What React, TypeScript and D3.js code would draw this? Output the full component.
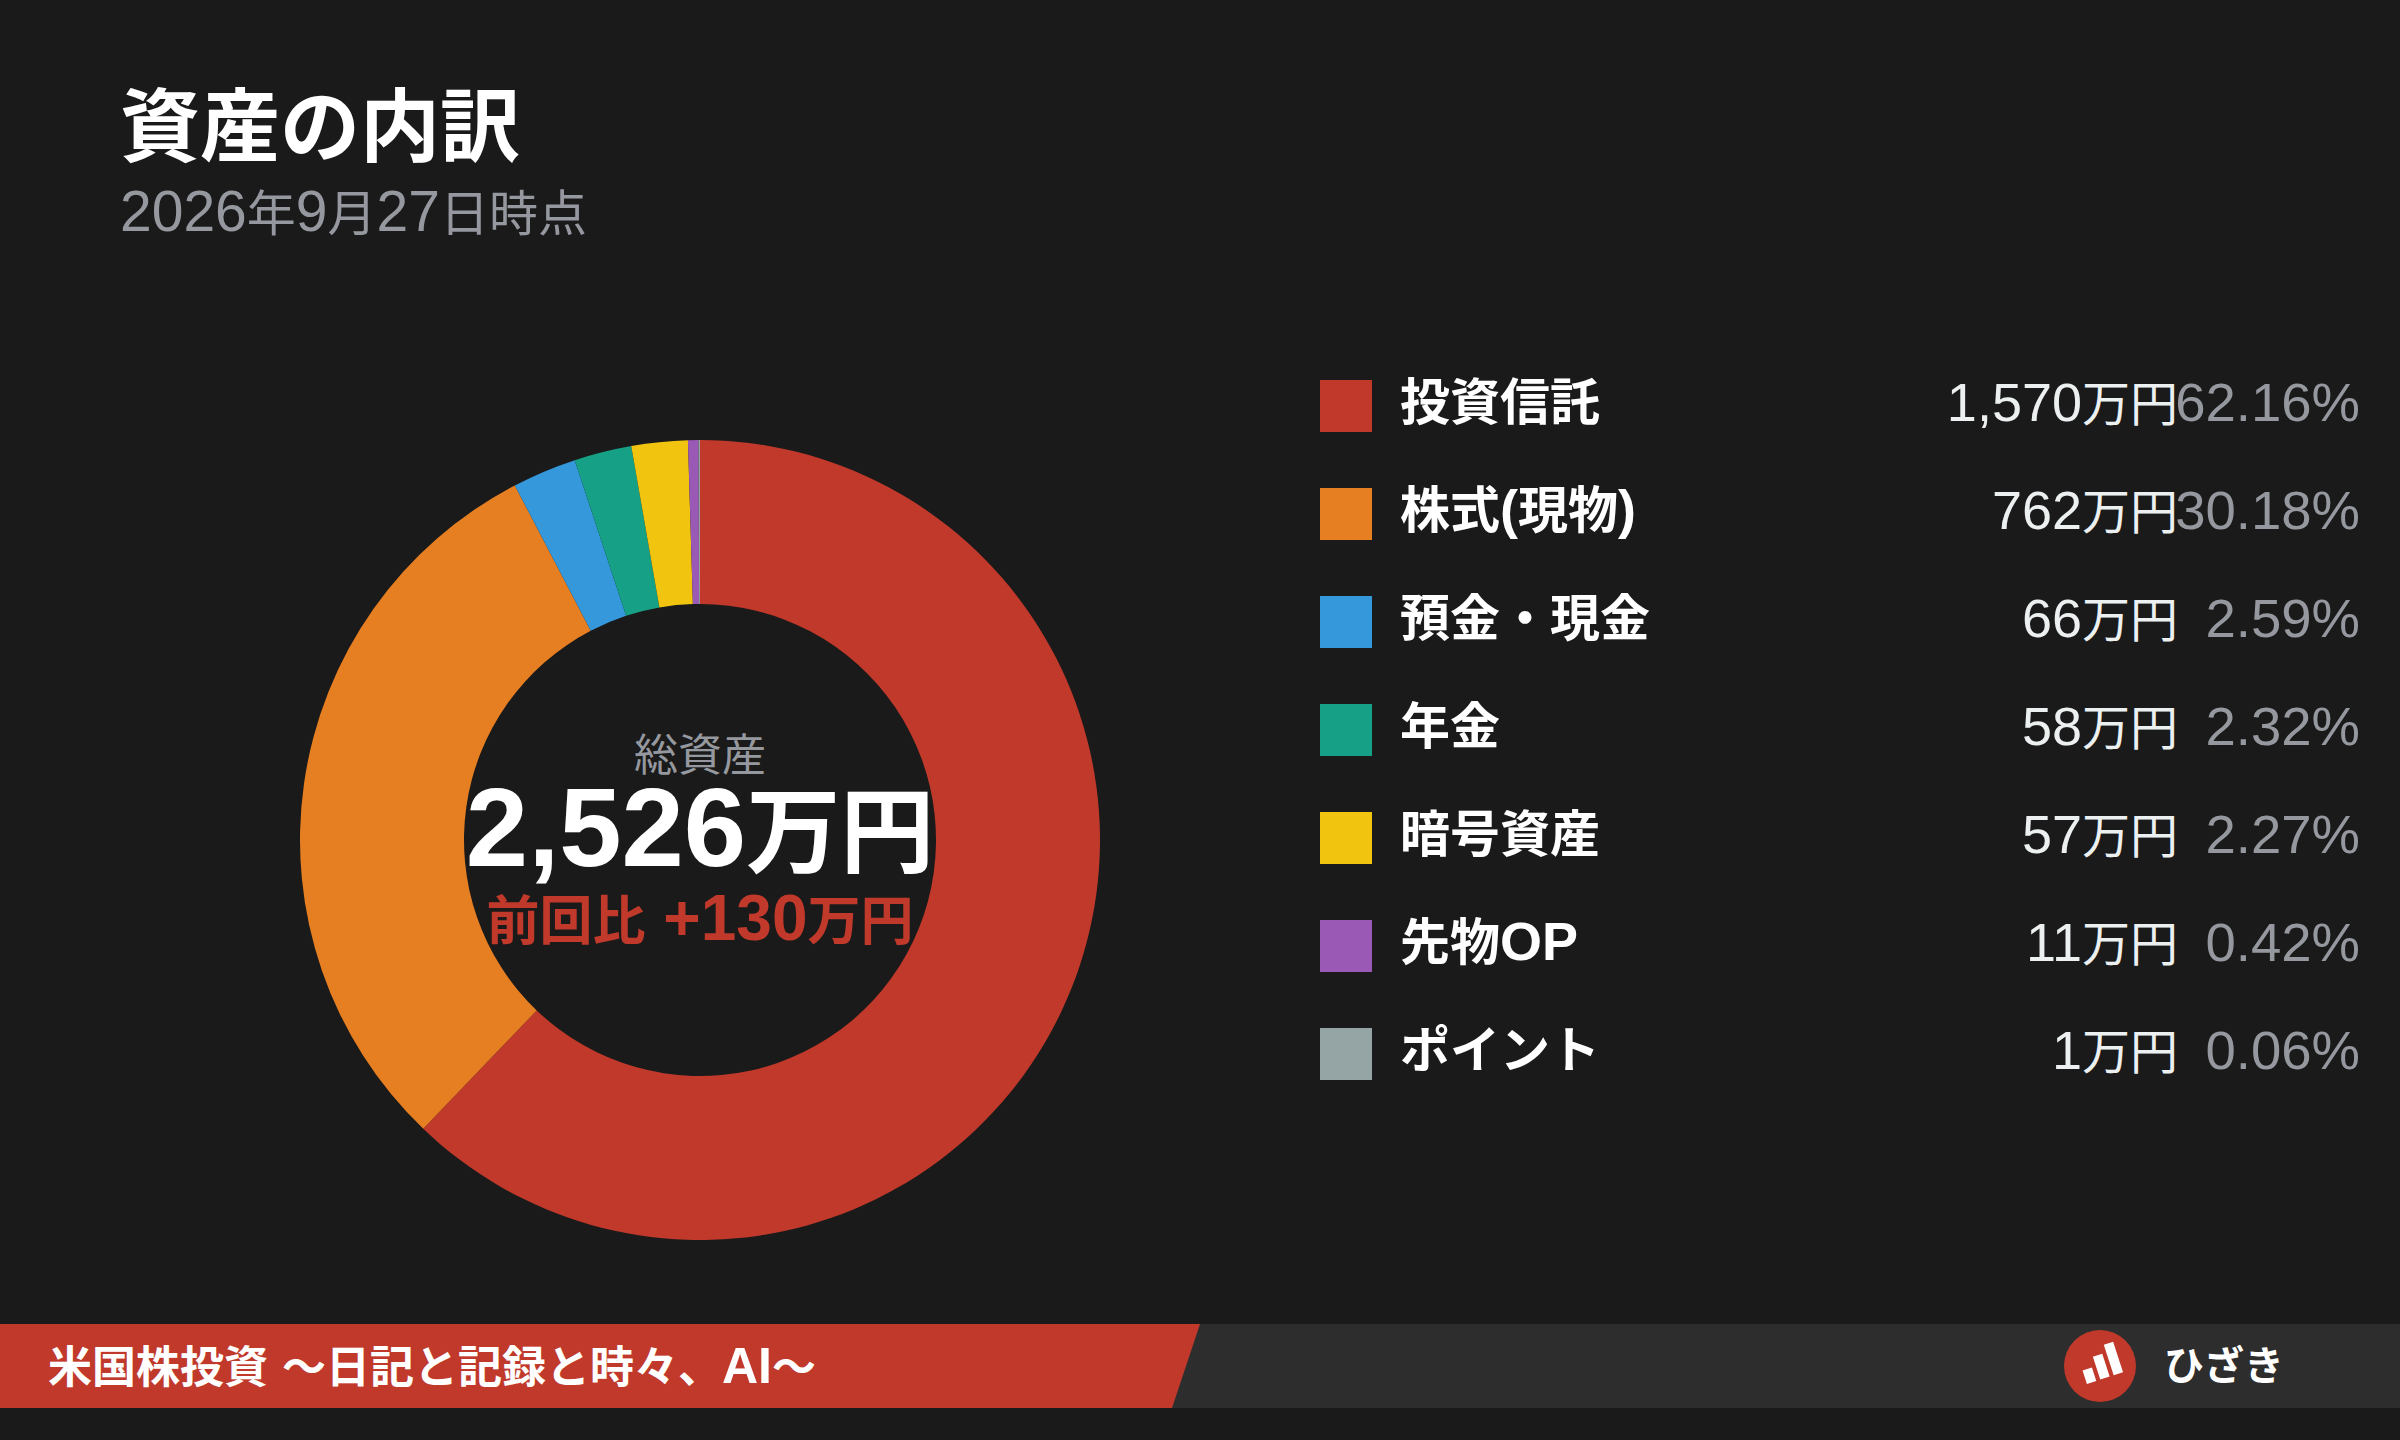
import React, { useEffect, useRef } from "react";
import * as d3 from "d3";

const title = "資産の内訳";
const subtitle = "2026年9月27日時点";
const categories = ["投資信託", "株式(現物)", "預金・現金", "年金", "暗号資産", "先物OP", "ポイント"];
const amountLabels = ["1,570万円", "762万円", "66万円", "58万円", "57万円", "11万円", "1万円"];
const percents = [62.16, 30.18, 2.59, 2.32, 2.27, 0.42, 0.06];
const colors = ["#c0392b", "#e67e22", "#3498db", "#16a085", "#f1c40f", "#9b59b6", "#95a5a6"];
const centerLabel = "総資産";
const centerValue = "2,526万円";
const centerDelta = "前回比 +130万円";
const footerTitle = "米国株投資 〜日記と記録と時々、AI〜";
const footerAuthor = "ひざき";
const logoBars = [14, 24, 32];

const LATIN = '"Liberation Sans", sans-serif';
const CJK = '"Noto Sans CJK JP", sans-serif';

export default function App() {
  const ref = useRef<SVGSVGElement>(null);
  useEffect(() => {
    const svg = d3.select(ref.current);
    svg.selectAll("*").remove();
    svg.append("rect").attr("width", 2400).attr("height", 1440).attr("fill", "#1a1a1a");
    const text = (x: number, y: number, s: string, size: number, latin: number, fill: string, weight = 400, anchor = "start") => {
      const t = svg.append("text").attr("x", x).attr("y", y).attr("fill", fill)
        .attr("font-weight", weight).attr("text-anchor", anchor).style("white-space", "pre");
      (s.match(/[\x00-\x7f]+|[^\x00-\x7f]+/g) || []).forEach((run) => {
        const isLatin = /^[\x00-\x7f]/.test(run);
        t.append("tspan").attr("font-family", isLatin ? LATIN : CJK)
          .attr("font-size", isLatin ? latin : size).text(run);
      });
      return t;
    };

    text(120, 155, title, 80, 80, "#ffffff", 700);
    text(120, 231, subtitle, 49, 57, "#95989e", 400);

    const pie = d3.pie<number>().sort(null).value((d) => d);
    const arc = d3.arc<d3.PieArcDatum<number>>().innerRadius(236).outerRadius(400);
    const g = svg.append("g").attr("transform", "translate(700,840)");
    g.selectAll("path").data(pie(percents)).join("path")
      .attr("d", (d) => arc(d)).attr("fill", (_, i) => colors[i]);

    text(700, 771, centerLabel, 44, 44, "#95989e", 400, "middle");
    text(700, 866, centerValue, 94, 112, "#ffffff", 700, "middle");
    text(700, 940, centerDelta, 53, 64, "#c0392b", 700, "middle");

    const rowY = d3.scalePoint<string>().domain(categories).range([406, 1054]);
    categories.forEach((c, i) => {
      const y = rowY(c)!;
      svg.append("rect").attr("x", 1320).attr("y", y - 26).attr("width", 52).attr("height", 52).attr("fill", colors[i]);
      text(1400, y + 14, c, 50, 54, "#ffffff", 700);
      text(2178, y + 15, amountLabels[i], 48, 54, "#ecf0f1", 400, "end");
      text(2360, y + 15, percents[i].toFixed(2) + "%", 48, 54.5, "#95989e", 400, "end");
    });

    svg.append("rect").attr("x", 0).attr("y", 1324).attr("width", 2400).attr("height", 84).attr("fill", "#2d2d2d");
    svg.append("polygon").attr("points", "0,1324 1200,1324 1172,1408 0,1408").attr("fill", "#c0392b");
    text(48, 1383, footerTitle, 44, 50, "#ffffff", 700);
    svg.append("circle").attr("cx", 2100).attr("cy", 1366).attr("r", 36).attr("fill", "#c0392b");
    const bars = svg.append("g").attr("transform", "translate(2100,1366) rotate(-18)");
    const bx = d3.scaleBand<number>().domain(logoBars).range([-18, 20]).paddingInner(0.3);
    bars.selectAll("rect").data(logoBars).join("rect")
      .attr("x", (d) => bx(d)!).attr("y", (d) => 13 - d)
      .attr("width", bx.bandwidth()).attr("height", (d) => d).attr("fill", "#ffffff");
    text(2164, 1380, footerAuthor, 40, 40, "#ffffff", 700);
  }, []);
  return <svg ref={ref} width={2400} height={1440} style={{ position: "absolute", left: 0, top: 0, display: "block" }} />;
}
